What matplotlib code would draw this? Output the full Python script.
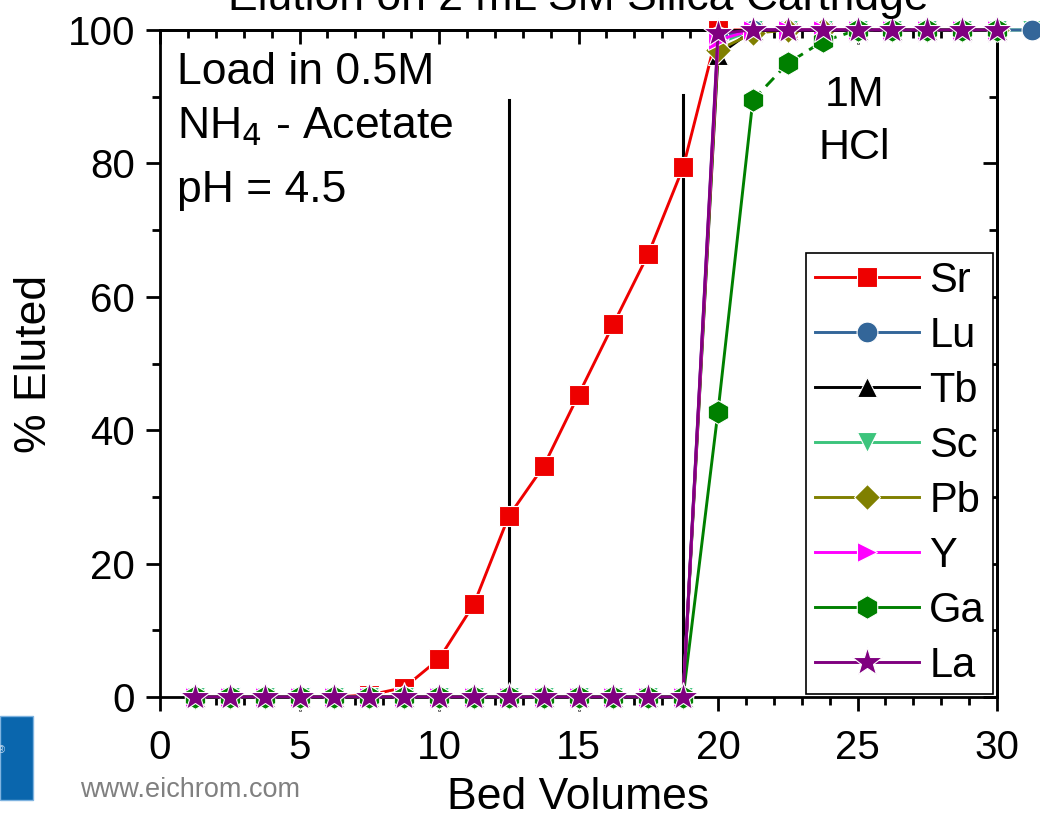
import matplotlib
matplotlib.use('Agg')
import matplotlib.pyplot as plt
from matplotlib.patches import Rectangle
from matplotlib.ticker import MultipleLocator

plt.rcParams['font.family'] = ['Liberation Sans', 'DejaVu Sans']

# bed volumes collected (1.25 BV per fraction)
bv = [1.25, 2.5, 3.75, 5.0, 6.25, 7.5, 8.75, 10.0, 11.25, 12.5, 13.75, 15.0,
      16.25, 17.5, 18.75, 20.0, 21.25, 22.5, 23.75, 25.0, 26.25, 27.5, 28.75,
      30.0, 31.25, 32.5]

# % eluted for each element
sr = [0, 0, 0, 0, 0, 0.3, 1.4, 5.7, 13.9, 27.1, 34.6, 45.3, 55.9, 66.4, 79.4,
      100, 100, 100, 100, 100, 100, 100, 100, 100]
lu = [0]*15 + [99.0, 100, 100, 100, 100, 100, 100, 100, 100, 100]
tb = [0]*15 + [96.2, 100, 100, 100, 100, 100, 100, 100, 100]
sc = [0]*15 + [98.0, 100, 100, 100, 100, 100, 100, 100, 100, 100, 100]
pb = [0]*15 + [97.0, 99.5, 100, 100, 100, 100, 100, 100, 100]
y_ = [0]*15 + [98.5, 100, 100, 100, 100, 100, 100, 100, 100]
ga = [0]*15 + [42.8, 89.5, 95.0, 98.3, 100, 100, 100, 100, 100]
la = [0]*15 + [99.5, 100, 100, 100, 100, 100, 100, 100, 100]

# strip solution switch markers
load_end = 12.5
hcl_start = 18.75
line_top = [89.5, 90.3]

# name, values, colour, marker, size, zorder
series = [
    ('Sr', sr, '#ee0000', 's', 14, 2.0),
    ('Lu', lu, '#336699', 'o', 15, 2.2),
    ('Tb', tb, 'black', '^', 15, 2.3),
    ('Sc', sc, '#3cc47c', 'v', 15, 2.1),
    ('Pb', pb, '#808000', 'D', 13, 2.4),
    ('Y', y_, '#ff00ff', '>', 15, 2.5),
    ('Ga', ga, '#008000', 'h', 17, 2.6),
    ('La', la, '#800080', '*', 22, 2.7),
]

fig = plt.figure(figsize=(10.4, 8.17), dpi=100)
ax = fig.add_axes([160/1040, 1-697/817, 837/1040, 667/817])

handles = []
for name, vals, col, mk, ms, z in series:
    xs = bv[:len(vals)]
    kw = dict(color=col, lw=2.1, marker=mk, ms=ms, mec='white', mew=0.8,
              clip_on=False, zorder=z)
    if name == 'Ga':
        # solid through the first strip fractions, dashed afterwards
        h, = ax.plot(xs[:17], vals[:17], label=name, **kw)
        ax.plot(xs[16:], vals[16:], ls=(0, (4, 2.5)), **kw)
    else:
        h, = ax.plot(xs, vals, label=name, **kw)
    handles.append(h)

ax.plot([load_end, load_end], [0, line_top[0]], color='black', lw=2.2, zorder=1)
ax.plot([hcl_start, hcl_start], [0, line_top[1]], color='black', lw=2.2, zorder=1)

ax.set_xlim(0, 30)
ax.set_ylim(0, 100)
ax.xaxis.set_major_locator(MultipleLocator(5))
ax.xaxis.set_minor_locator(MultipleLocator(1))
ax.yaxis.set_major_locator(MultipleLocator(20))
ax.yaxis.set_minor_locator(MultipleLocator(10))
ax.tick_params(which='both', direction='out', width=2, labelsize=29)
ax.tick_params(which='major', length=10)
ax.tick_params(which='minor', length=6)
ax.tick_params(axis='x', which='major', pad=13)
ax.tick_params(axis='y', which='major', pad=8)
for s in ax.spines.values():
    s.set_linewidth(2)

# inward ticks on the top and right spines
top = ax.secondary_xaxis('top')
top.xaxis.set_major_locator(MultipleLocator(5))
top.xaxis.set_minor_locator(MultipleLocator(1))
top.tick_params(which='both', direction='in', width=2, labeltop=False)
top.tick_params(which='major', length=10)
top.tick_params(which='minor', length=6)
top.spines['top'].set_linewidth(2)
right = ax.secondary_yaxis('right')
right.yaxis.set_major_locator(MultipleLocator(20))
right.yaxis.set_minor_locator(MultipleLocator(10))
right.tick_params(which='both', direction='in', width=2, labelright=False)
right.tick_params(which='major', length=10)
right.tick_params(which='minor', length=6)
right.spines['right'].set_linewidth(2)

ax.set_xlabel('Bed Volumes', fontsize=32, labelpad=7)
ax.set_ylabel('% Eluted', fontsize=32, labelpad=9)

ax.text(0.6, 93.7, 'Load in 0.5M', fontsize=32, va='center')
ax.text(0.6, 85.5, 'NH$_4$ - Acetate', fontsize=32, va='center')
ax.text(0.6, 76.0, 'pH = 4.5', fontsize=32, va='center')
ax.text(24.9, 90.3, '1M', fontsize=31, ha='center', va='center')
ax.text(24.9, 82.3, 'HCl', fontsize=31, ha='center', va='center')

leg = ax.legend(handles=handles, loc='lower right', bbox_to_anchor=(0.9955, 0.004),
                fontsize=30, handlelength=2.5, handletextpad=0.25,
                labelspacing=0.36, borderpad=0.2, borderaxespad=0,
                fancybox=False, framealpha=1, edgecolor='black')
leg.get_frame().set_linewidth(1.2)
leg.set_zorder(5)

fig.text(578/1040, 1-10/817, 'Elution on 2 mL SM Silica Cartridge',
         fontsize=32, ha='center', va='baseline')

# logo block and web address
fig.patches.append(Rectangle((0, 1-800/817), 33/1040, 84/817,
                             transform=fig.transFigure, facecolor='#0a66ad',
                             edgecolor='#7fb3e0', lw=1))
fig.text(-2/1040, 1-750/817, '\u00ae', fontsize=7, color='#c8dcf0',
         ha='left', va='center')
fig.text(80/1040, 1-790/817, 'www.eichrom.com', fontsize=19.5,
         color='#808080', ha='left', va='center')

fig.savefig('out.png', dpi=100)
